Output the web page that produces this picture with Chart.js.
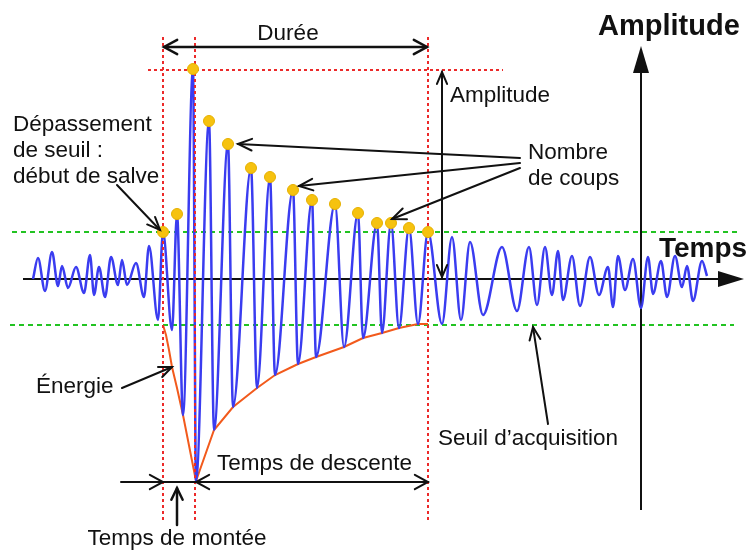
<!DOCTYPE html>
<html lang="fr">
<head>
<meta charset="utf-8">
<title>Salve d'émission acoustique</title>
<script src="https://cdn.jsdelivr.net/npm/chart.js@4.4.1/dist/chart.umd.min.js"></script>
<style>
  html, body { margin: 0; padding: 0; background: #fff; }
  #wrap { width: 751px; height: 550px; }
</style>
</head>
<body>
<div id="wrap"><canvas id="salve"></canvas></div>
<script>
// Signal: time of each successive extremum and its amplitude
const waveTime = [33, 38, 45, 52, 58, 62, 68, 76, 84, 90, 94, 99, 105, 111, 118, 122, 127, 136, 144, 149,
    158, 163, 172, 177, 183, 193, 196, 209, 214, 228, 233, 251, 257, 270, 275, 293, 298, 312, 316, 335,
    344, 358, 363, 377, 382, 391, 399, 409, 418, 428, 442, 452, 461, 470, 483, 502, 517, 529, 537, 545,
    552, 558, 563, 572, 580, 590, 599, 608, 613, 618, 625, 633, 641, 648, 653, 661, 667, 675, 682, 687,
    693, 702, 707];
const waveAmp = [0, 21, -12, 27, -7, 13, -9, 12, -14, 24, -16, 12, -18, 22, -6, 19, -6, 16, -18, 33,
    -41, 47, -51, 65, -136, 210, -202, 158, -151, 135, -128, 111, -109, 102, -96, 89, -85, 79, -78, 75,
    -68, 66, -59, 56, -54, 56, -49, 51, -45, 47, -45, 42, -41, 37, -36, 32, -32, 32, -26, 32,
    -16, 28, -21, 23, -27, 22, -16, 12, -28, 23, -11, 20, -29, 22, -15, 18, -18, 23, -8, 13,
    -22, 18, 3];

// Counted hits (peaks above the threshold)
const hitTime = [163, 177, 193, 209, 228, 251, 270, 293, 312, 335, 358, 377, 391, 409, 428];
const hitAmp = [47, 65, 210, 158, 135, 111, 102, 89, 79, 75, 66, 56, 56, 51, 47];

// Energy envelope
const envTime = [163, 166, 169, 172, 177, 183, 196, 214, 233, 257, 275, 298, 316, 344, 363, 382, 399, 418, 428];
const envAmp = [-46, -56, -71, -88, -109, -136, -202, -151, -128, -109, -96, -85, -78, -68, -59, -54, -49, -45, -45];

// Acquisition thresholds
const thresholdHigh = 47;
const thresholdLow = -46;

const toPoints = (xs, ys) => xs.map((x, i) => ({ x: x, y: ys[i] }));

const FONT = '"Liberation Sans", Arial, sans-serif';

function line(ctx, a, b) {
    ctx.beginPath();
    ctx.moveTo(a[0], a[1]);
    ctx.lineTo(b[0], b[1]);
    ctx.stroke();
}

// open "V" arrow head at tip, pointing away from "from"
function head(ctx, from, tip, len, spread) {
    const ang = Math.atan2(tip[1] - from[1], tip[0] - from[0]);
    ctx.beginPath();
    ctx.moveTo(tip[0] - len * Math.cos(ang - spread), tip[1] - len * Math.sin(ang - spread));
    ctx.lineTo(tip[0], tip[1]);
    ctx.lineTo(tip[0] - len * Math.cos(ang + spread), tip[1] - len * Math.sin(ang + spread));
    ctx.stroke();
}

function filledHead(ctx, from, tip, len, half) {
    const ang = Math.atan2(tip[1] - from[1], tip[0] - from[0]);
    const bx = tip[0] - len * Math.cos(ang), by = tip[1] - len * Math.sin(ang);
    ctx.beginPath();
    ctx.moveTo(tip[0], tip[1]);
    ctx.lineTo(bx + half * Math.sin(ang), by - half * Math.cos(ang));
    ctx.lineTo(bx - half * Math.sin(ang), by + half * Math.cos(ang));
    ctx.closePath();
    ctx.fill();
}

const diagram = {
    id: 'diagram',
    beforeDatasetsDraw(chart) {
        const { ctx, scales: { x, y } } = chart;
        const P = (t, a) => [x.getPixelForValue(t), y.getPixelForValue(a)];
        ctx.save();
        // thresholds
        ctx.strokeStyle = '#22c322';
        ctx.lineWidth = 2;
        ctx.setLineDash([5, 4]);
        line(ctx, P(12, thresholdHigh), P(737, thresholdHigh));
        line(ctx, P(10, thresholdLow), P(734, thresholdLow));
        ctx.setLineDash([]);
        // axes
        ctx.strokeStyle = '#111';
        ctx.fillStyle = '#111';
        ctx.lineWidth = 2;
        line(ctx, P(23, 0), P(722, 0));
        filledHead(ctx, P(23, 0), P(744, 0), 26, 8);
        line(ctx, P(641, -231), P(641, 210));
        filledHead(ctx, P(641, -231), P(641, 233), 27, 8);
        ctx.restore();
    },
    afterDatasetDraw(chart, args) {
        if (args.index !== 1) return;
        const { ctx, scales: { x, y } } = chart;
        const P = (t, a) => [x.getPixelForValue(t), y.getPixelForValue(a)];
        ctx.save();
        ctx.strokeStyle = '#ec2a2a';
        ctx.lineWidth = 2;
        ctx.setLineDash([3, 3]);
        [163, 195, 428].forEach(t => line(ctx, P(t, 242), P(t, -241)));
        line(ctx, P(148, 209), P(503, 209));
        ctx.restore();
    },
    afterDraw(chart) {
        const { ctx, scales: { x, y } } = chart;
        const P = (t, a) => [x.getPixelForValue(t), y.getPixelForValue(a)];
        const arrow = (a, b, len, spread, both) => {
            line(ctx, a, b);
            head(ctx, a, b, len, spread);
            if (both) head(ctx, b, a, len, spread);
        };
        const text = (s, t, a, align) => {
            const p = P(t, a);
            ctx.textAlign = align || 'left';
            ctx.fillText(s, p[0], p[1]);
        };
        ctx.save();
        ctx.strokeStyle = '#111';
        ctx.fillStyle = '#111';
        ctx.lineCap = 'round';

        // Durée
        ctx.lineWidth = 2.5;
        arrow(P(164, 232), P(427, 232), 15, 0.5, true);
        // Amplitude
        ctx.lineWidth = 2;
        arrow(P(442, 2), P(442, 207), 13, 0.4, true);
        // Dépassement de seuil
        arrow(P(117, 94), P(160, 49), 14, 0.4);
        // Nombre de coups
        arrow(P(520, 121), P(238, 135), 15, 0.4);
        arrow(P(520, 116), P(299, 93), 15, 0.4);
        arrow(P(520, 111), P(392, 60), 15, 0.4);
        // Énergie
        arrow(P(122, -109), P(172, -88), 14, 0.4);
        // Seuil d'acquisition
        arrow(P(548, -145), P(533, -48), 14, 0.4);
        // Temps de montée / descente
        line(ctx, P(121, -203), P(428, -203));
        head(ctx, P(121, -203), P(163, -203), 15, 0.5);
        head(ctx, P(428, -203), P(196, -203), 15, 0.5);
        head(ctx, P(196, -203), P(428, -203), 15, 0.5);
        ctx.lineWidth = 2.5;
        arrow(P(177, -246), P(177, -209), 13, 0.45);

        // texts
        ctx.textBaseline = 'alphabetic';
        ctx.font = '22.5px ' + FONT;
        text('Durée', 288, 239, 'center');
        text('Amplitude', 450, 177);
        text('Dépassement', 13, 148);
        text('de seuil :', 13, 122);
        text('début de salve', 13, 96);
        text('Nombre', 528, 120);
        text('de coups', 528, 94);
        text('Énergie', 36, -114);
        text('Seuil d’acquisition', 438, -166);
        text('Temps de descente', 217, -191);
        text('Temps de montée', 177, -266, 'center');
        ctx.font = 'bold 29px ' + FONT;
        text('Amplitude', 598, 244);
        ctx.font = 'bold 28px ' + FONT;
        text('Temps', 659, 22);
        ctx.restore();
    }
};

new Chart(document.getElementById('salve'), {
    type: 'line',
    data: {
        datasets: [{
            label: 'Coups',
            data: toPoints(hitTime, hitAmp),
            showLine: false,
            pointRadius: 5.5,
            pointBackgroundColor: '#f6c20f',
            pointBorderColor: '#e6b000',
            pointBorderWidth: 1
        }, {
            label: 'Signal',
            data: toPoints(waveTime, waveAmp),
            borderColor: '#3a3cf0',
            borderWidth: 2.5,
            pointRadius: 0,
            cubicInterpolationMode: 'monotone'
        }, {
            label: 'Énergie',
            data: toPoints(envTime, envAmp),
            borderColor: '#f25a1c',
            borderWidth: 2,
            pointRadius: 0,
            tension: 0
        }]
    },
    options: {
        responsive: true,
        maintainAspectRatio: false,
        animation: false,
        layout: { padding: 0, autoPadding: false },
        plugins: {
            legend: { display: false },
            tooltip: { enabled: false }
        },
        scales: {
            x: { type: 'linear', min: 0, max: 751, display: false },
            y: { type: 'linear', min: -271, max: 279, display: false }
        }
    },
    plugins: [diagram]
});
</script>
</body>
</html>
